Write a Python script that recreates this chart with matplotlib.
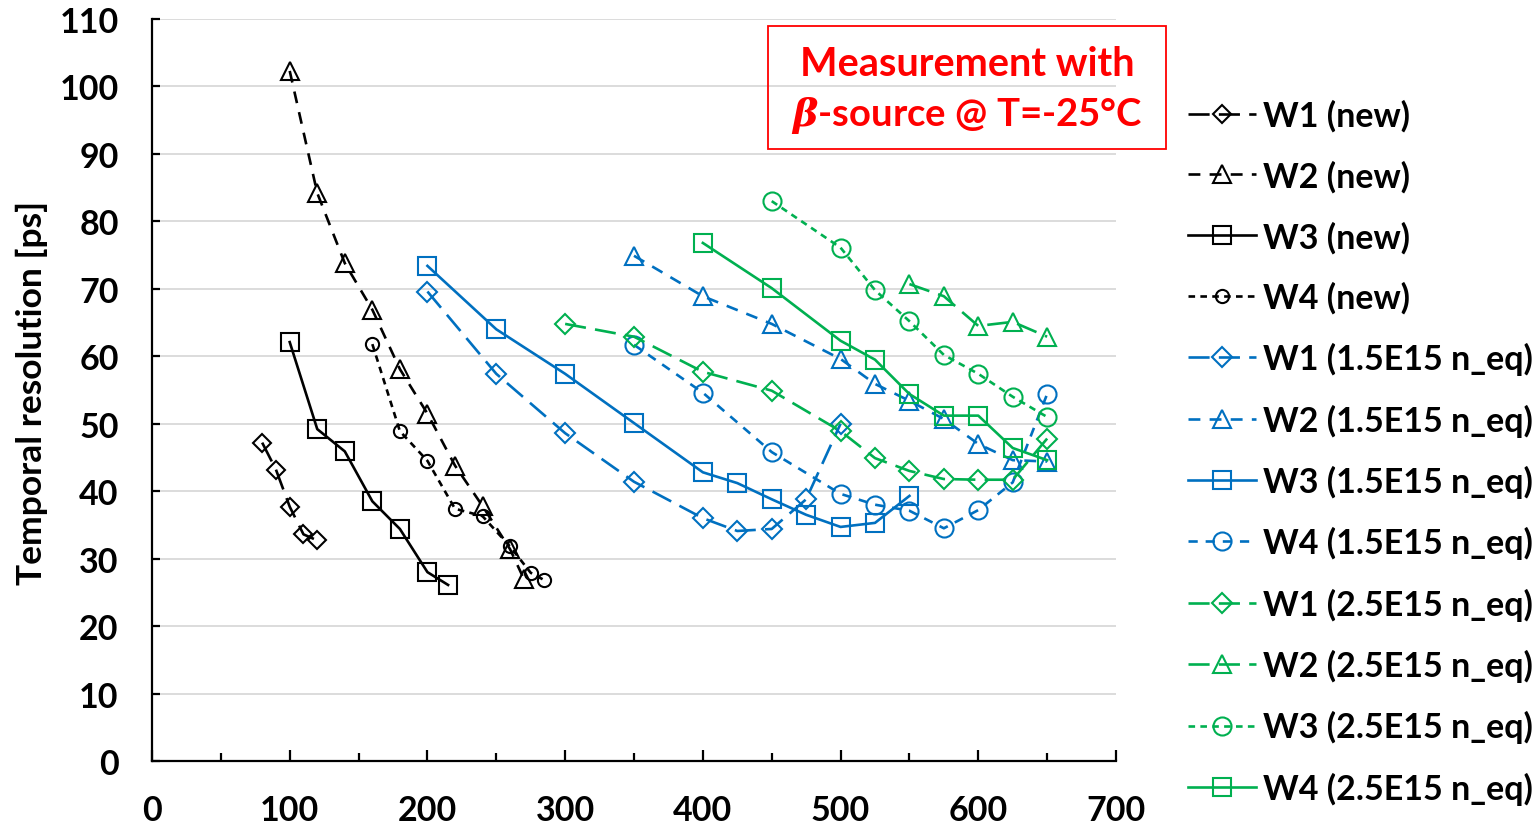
import matplotlib
matplotlib.use("Agg")
import matplotlib.pyplot as plt
from matplotlib.patches import Rectangle

plt.rcParams['font.family'] = ['Lato', 'DejaVu Sans']
plt.rcParams['font.weight'] = 'bold'
plt.rcParams['mathtext.fontset'] = 'custom'
plt.rcParams['mathtext.it'] = 'DejaVu Serif:italic:bold'
plt.rcParams['mathtext.rm'] = 'Lato:bold'

# ---------------- data ----------------
w1_new_x = [80, 90, 100, 110, 120]
w1_new_y = [47.2, 43.2, 37.7, 33.6, 32.7]
w2_new_x = [100, 120, 140, 160, 180, 200, 220, 240, 260, 270]
w2_new_y = [102.3, 84.2, 73.8, 66.9, 58.1, 51.5, 43.8, 37.8, 31.4, 27.0]
w3_new_x = [100, 120, 140, 160, 180, 200, 215]
w3_new_y = [62.1, 49.2, 45.9, 38.5, 34.4, 28.0, 26.1]
w4_new_x = [160, 180, 200, 220, 240, 260, 275, 285]
w4_new_y = [61.8, 48.9, 44.5, 37.4, 36.3, 31.8, 27.9, 26.8]

w1_15_x = [200, 250, 300, 350, 400, 425, 450, 475, 500]
w1_15_y = [69.6, 57.4, 48.6, 41.4, 36.0, 34.1, 34.4, 38.8, 50.0]
w2_15_x = [350, 400, 450, 500, 525, 550, 575, 600, 625, 650]
w2_15_y = [74.9, 68.9, 64.8, 59.6, 55.9, 53.4, 50.7, 47.0, 44.6, 44.4]
w3_15_x = [200, 250, 300, 350, 400, 425, 450, 475, 500, 525, 550]
w3_15_y = [73.4, 64.0, 57.4, 50.1, 42.8, 41.2, 38.8, 36.5, 34.7, 35.3, 39.3]
w4_15_x = [350, 400, 450, 500, 525, 550, 575, 600, 625, 650]
w4_15_y = [61.7, 54.6, 45.8, 39.6, 38.0, 37.1, 34.5, 37.2, 41.3, 54.4]

w1_25_x = [300, 350, 400, 450, 500, 525, 550, 575, 600, 625, 650]
w1_25_y = [64.8, 62.9, 57.7, 54.9, 48.9, 44.9, 43.0, 41.8, 41.7, 41.7, 47.8]
w2_25_x = [550, 575, 600, 625, 650]
w2_25_y = [70.7, 68.9, 64.5, 65.1, 62.9]
w3_25_x = [450, 500, 525, 550, 575, 600, 625, 650]
w3_25_y = [83.0, 76.1, 69.8, 65.2, 60.2, 57.4, 54.0, 51.0]
w4_25_x = [400, 450, 500, 525, 550, 575, 600, 625, 650]
w4_25_y = [76.8, 70.1, 62.3, 59.5, 54.4, 51.2, 51.2, 46.4, 44.6]

labels = ["W1 (new)", "W2 (new)", "W3 (new)", "W4 (new)",
          "W1 (1.5E15 n_eq)", "W2 (1.5E15 n_eq)", "W3 (1.5E15 n_eq)", "W4 (1.5E15 n_eq)",
          "W1 (2.5E15 n_eq)", "W2 (2.5E15 n_eq)", "W3 (2.5E15 n_eq)", "W4 (2.5E15 n_eq)"]
x_ticks = [0, 100, 200, 300, 400, 500, 600, 700]
y_ticks = [0, 10, 20, 30, 40, 50, 60, 70, 80, 90, 100, 110]

BLACK = "#000000"
BLUE = "#0070C0"
GREEN = "#00B050"

LONG = (0, (8, 3.5))
DASH = (0, (4.5, 3.5))
MED = (0, (3.5, 3))
SHORT = (0, (2.5, 2))

series = [
    (w1_new_x, w1_new_y, BLACK, LONG, 'D', 9.2),
    (w2_new_x, w2_new_y, BLACK, DASH, '^', 13),
    (w3_new_x, w3_new_y, BLACK, '-', 's', 13),
    (w4_new_x, w4_new_y, BLACK, SHORT, 'o', 9.5),
    (w1_15_x, w1_15_y, BLUE, LONG, 'D', 10),
    (w2_15_x, w2_15_y, BLUE, DASH, '^', 13),
    (w3_15_x, w3_15_y, BLUE, '-', 's', 13),
    (w4_15_x, w4_15_y, BLUE, MED, 'o', 13),
    (w1_25_x, w1_25_y, GREEN, LONG, 'D', 10),
    (w2_25_x, w2_25_y, GREEN, LONG, '^', 13),
    (w3_25_x, w3_25_y, GREEN, SHORT, 'o', 13),
    (w4_25_x, w4_25_y, GREEN, '-', 's', 13),
]

FS = 24.5

W, H = 1539, 829
fig = plt.figure(figsize=(W / 100, H / 100), dpi=100)
ax = fig.add_axes([152 / W, 1 - 762 / H, (1116 - 152) / W, (762 - 20) / H])

handles = []
for (xs, ys, c, ls, m, ms), lab in zip(series, labels):
    h, = ax.plot(xs, ys, color=c, linestyle=ls, linewidth=1.9, marker=m,
                 markersize=ms, markerfacecolor='none', markeredgecolor=c,
                 markeredgewidth=1.5, label=lab, zorder=3)
    handles.append(h)

ax.set_xlim(0, 700)
ax.set_ylim(0, 110)
ax.set_xticks(x_ticks)
ax.set_xticks([50, 150, 250, 350, 450, 550, 650], minor=True)
ax.set_yticks(y_ticks)
ax.grid(axis='y', color='#d9d9d9', linewidth=1.3, zorder=0)
ax.set_axisbelow(True)
for s in ['top', 'right']:
    ax.spines[s].set_visible(False)
for s in ['left', 'bottom']:
    ax.spines[s].set_linewidth(1.6)
    ax.spines[s].set_color('black')
ax.tick_params(axis='x', which='major', direction='in', length=8, width=1.6,
               pad=24, labelsize=FS)
ax.tick_params(axis='x', which='minor', direction='in', length=6, width=1.6)
ax.tick_params(axis='y', which='major', direction='in', length=6, width=1.6,
               pad=24, labelsize=FS)
for lab in ax.get_xticklabels() + ax.get_yticklabels():
    lab.set_fontweight('bold')

fig.text(32 / W, 1 - 393 / H, "Temporal resolution [ps]", rotation=90,
         ha='center', va='center', fontsize=25.5, fontweight='bold')

# title box
fig.patches.append(Rectangle((768 / W, 1 - 150 / H), (1166 - 768) / W, (150 - 27) / H,
                             transform=fig.transFigure, fill=False,
                             edgecolor='#FF0000', linewidth=1.3))
fig.text(967 / W, 1 - 64 / H, "Measurement with", ha='center', va='center',
         color='#FF0000', fontsize=28.5, fontweight='bold')
fig.text(967 / W, 1 - 115 / H, r"$\beta$-source @ T=-25°C", ha='center', va='center',
         color='#FF0000', fontsize=27.5, fontweight='bold')

fig.legend(handles=handles, labels=labels, loc='upper left',
           bbox_to_anchor=(1188 / W, 1 - 100 / H), frameon=False,
           handlelength=2.0, handletextpad=0.2,
           labelspacing=0.83, borderpad=0, borderaxespad=0,
           prop={'weight': 'bold', 'size': FS})

fig.savefig("out.png", dpi=100)
